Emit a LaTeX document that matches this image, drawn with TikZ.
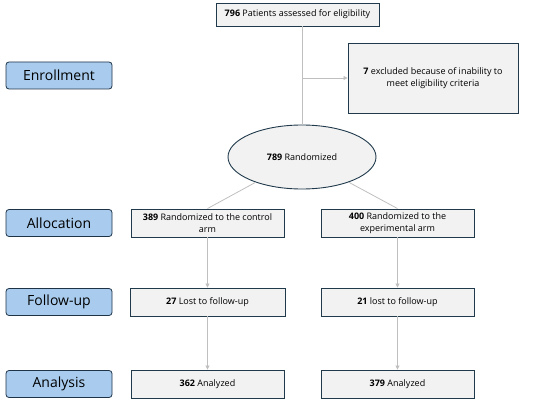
\documentclass[tikz,border=0pt]{standalone}
\usepackage{fontspec}
\setmainfont{Open Sans}
\usetikzlibrary{shapes.geometric,arrows.meta}
\definecolor{stagefill}{HTML}{A9CCEE}
\definecolor{stageline}{HTML}{1F3347}
\definecolor{boxfill}{HTML}{F2F2F2}
\definecolor{boxline}{HTML}{203A4C}
\definecolor{flowline}{HTML}{BFBFBF}
\tikzset{
  stage/.style={draw=stageline, fill=stagefill, rounded corners=3pt, line width=0.8pt,
    minimum width=106pt, minimum height=27pt, font=\fontsize{14}{16}\selectfont},
  flowbox/.style={draw=boxline, fill=boxfill, line width=0.9pt, minimum width=153pt,
    minimum height=28pt, align=center, inner sep=1pt, font=\fontsize{9}{12.3}\selectfont},
  flow/.style={draw=flowline, line width=0.8pt},
  flowarrow/.style={flow, -{Triangle[length=4pt,width=4pt]}},
}
\begin{document}
\begin{tikzpicture}[x=1pt,y=-1pt]
  \useasboundingbox (0,0) rectangle (550,404);
  % stages
  \node[stage] (enrol) at (59,75.5) {Enrollment};
  \node[stage] (alloc) at (59,223) {Allocation};
  \node[stage] (follow) at (59,302) {Follow-up};
  \node[stage] (analysis) at (59,384) {Analysis};
  % enrollment
  \node[flowbox, minimum width=163pt, minimum height=23pt] (assessed) at (297.5,14.5) {\textbf{796} Patients assessed for eligibility};
  \node[flowbox, minimum width=170pt, minimum height=70pt] (excluded) at (433,78) {\textbf{7} excluded because of inability to\\meet eligibility criteria};
  \node[flowbox, ellipse, minimum width=148pt, minimum height=64pt] (random) at (302,157) {\textbf{789} Randomized};
  \coordinate (split) at (302,78);
  % arms
  \node[flowbox] (control) at (207.5,223) {\textbf{389} Randomized to the control\\arm};
  \node[flowbox] (exper) at (397.5,223) {\textbf{400} Randomized to the\\experimental arm};
  \node[flowbox, minimum width=155pt] (lostc) at (207.5,302) {\textbf{27} Lost to follow-up};
  \node[flowbox] (loste) at (397.5,302) {\textbf{21} lost to follow-up};
  \node[flowbox] (anac) at (207.5,384) {\textbf{362} Analyzed};
  \node[flowbox] (anae) at (397.5,384) {\textbf{379} Analyzed};
  % connectors
  \draw[flow] (assessed.south -| split) -- (random);
  \draw[flowarrow] (split) -- (excluded);
  \draw[flow] (random) -- (control.north);
  \draw[flow] (random) -- (exper.north);
  \draw[flowarrow] (control) -- (lostc);
  \draw[flowarrow] (exper) -- (loste);
  \draw[flowarrow] (lostc) -- (anac);
  \draw[flowarrow] (loste) -- (anae);
\end{tikzpicture}
\end{document}
